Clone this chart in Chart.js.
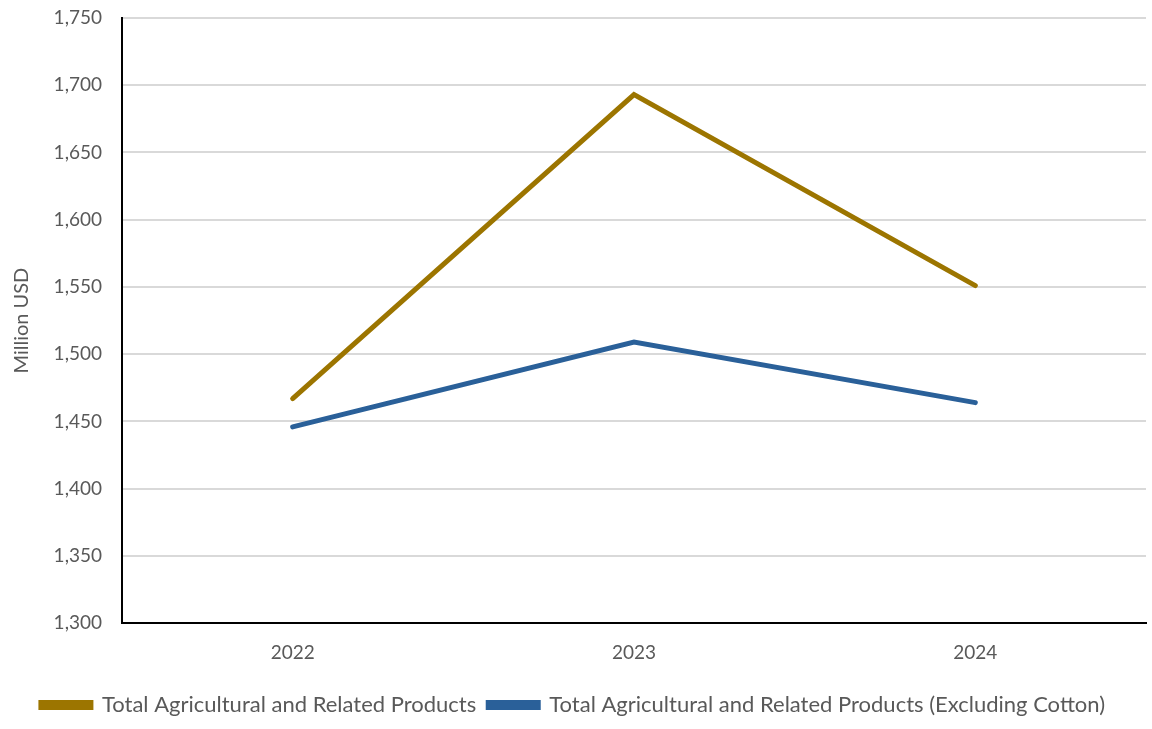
<!DOCTYPE html>
<html>
<head>
<meta charset="utf-8">
<script src="https://cdn.jsdelivr.net/npm/chart.js@4"></script>
<style>
  html, body { margin: 0; padding: 0; background: #fff; }
  #wrap { width: 1152px; height: 729px; }
</style>
</head>
<body>
<div id="wrap"><canvas id="chart"></canvas></div>
<script>
// Data
const years = ['2022', '2023', '2024'];
const totalAg = [1467, 1693, 1551];
const totalAgExCotton = [1446, 1509, 1464];

const gold = '#9C7500';
const blue = '#2A6099';
const fontFamily = 'Lato, "Open Sans", sans-serif';

new Chart(document.getElementById('chart'), {
    type: 'line',
    data: {
        labels: years,
        datasets: [{
            label: 'Total Agricultural and Related Products',
            data: totalAg,
            borderColor: gold,
            backgroundColor: gold,
            borderWidth: 5,
            pointRadius: 0,
            borderCapStyle: 'round',
            tension: 0
        }, {
            label: 'Total Agricultural and Related Products (Excluding Cotton)',
            data: totalAgExCotton,
            borderColor: blue,
            backgroundColor: blue,
            borderWidth: 5,
            pointRadius: 0,
            borderCapStyle: 'round',
            tension: 0
        }]
    },
    options: {
        responsive: true,
        maintainAspectRatio: false,
        animation: false,
        layout: { padding: { top: 18, right: 6, bottom: 3, left: 0 } },
        plugins: {
            legend: {
                position: 'bottom',
                labels: {
                    boxWidth: 50,
                    boxHeight: 5,
                    padding: 12,
                    color: '#595959',
                    font: { family: fontFamily, size: 22 }
                }
            },
            tooltip: { enabled: false }
        },
        scales: {
            x: {
                offset: true,
                grid: { display: false, drawTicks: false },
                border: { color: '#000', width: 2 },
                ticks: {
                    color: '#595959',
                    padding: 18,
                    font: { family: fontFamily, size: 19 }
                }
            },
            y: {
                min: 1300,
                max: 1750,
                afterFit: (axis) => {
                    axis.width = 122;
                    axis.paddingTop = 0;
                },
                grid: { color: '#d9d9d9', lineWidth: 2, drawTicks: false },
                border: { color: '#000', width: 2 },
                title: {
                    display: true,
                    text: 'Million USD',
                    color: '#595959',
                    padding: { top: 10, bottom: 4 },
                    font: { family: fontFamily, size: 20 }
                },
                ticks: {
                    stepSize: 50,
                    color: '#595959',
                    padding: 20,
                    font: { family: fontFamily, size: 19 },
                    callback: (v) => v.toLocaleString('en-US')
                }
            }
        }
    }
});
</script>
</body>
</html>
